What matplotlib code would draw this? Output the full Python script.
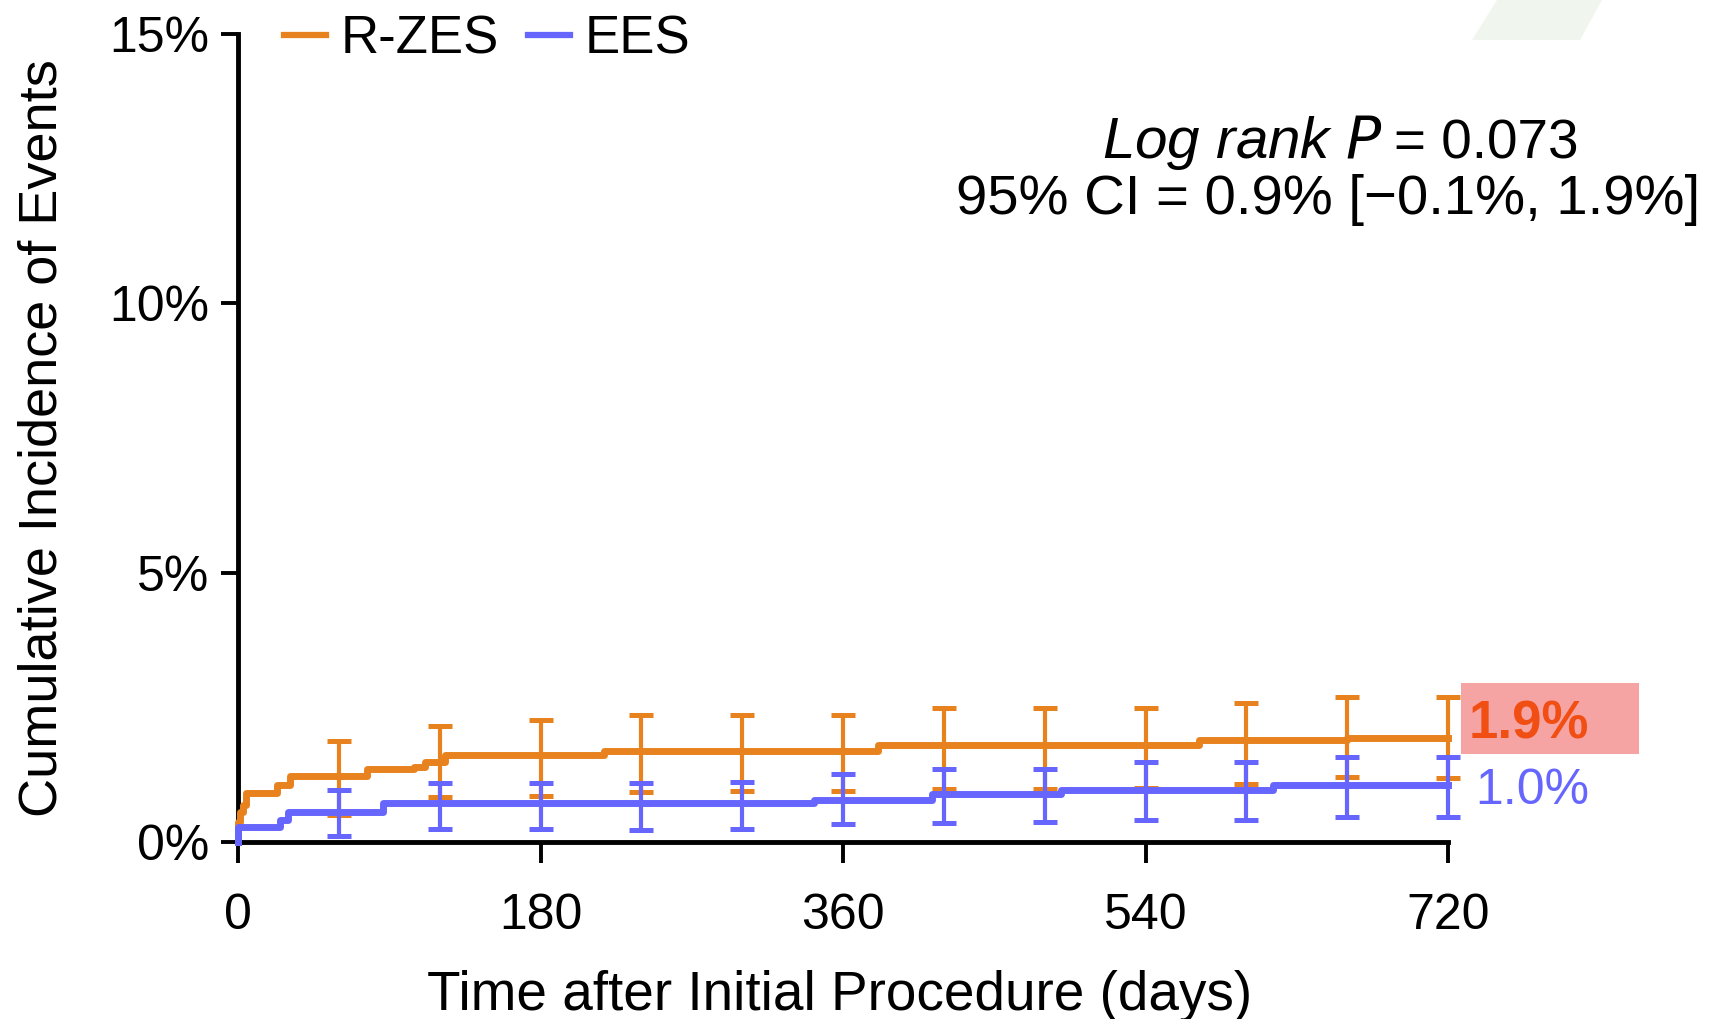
import numpy as np
import matplotlib.pyplot as plt
from matplotlib.patches import Rectangle, Polygon

# Données (jours, incidence cumulée en %)
rzes_days = [0, 0, 1, 3, 5, 23, 31, 77, 105, 111, 123, 218, 381, 572, 660, 720]
rzes_vals = [0.0, 0.38, 0.56, 0.68, 0.91, 1.06, 1.22, 1.35, 1.40, 1.49, 1.62, 1.69, 1.80, 1.89, 1.93, 1.93]

ees_days = [0, 0, 25, 30, 86, 343, 413, 490, 616, 720]
ees_vals = [0.0, 0.28, 0.41, 0.56, 0.72, 0.78, 0.89, 0.97, 1.05, 1.05]

# Barres d'erreur (IC) tous les 60 jours
bar_days = [60, 120, 180, 240, 300, 360, 420, 480, 540, 600, 660, 720]
rzes_low = [0.50, 0.83, 0.85, 0.92, 0.94, 0.94, 0.99, 0.99, 1.00, 1.07, 1.20, 1.18]
rzes_high = [1.88, 2.15, 2.27, 2.35, 2.35, 2.35, 2.48, 2.48, 2.48, 2.58, 2.69, 2.70]
ees_low = [0.11, 0.24, 0.24, 0.22, 0.24, 0.33, 0.36, 0.38, 0.41, 0.41, 0.46, 0.47]
ees_high = [0.96, 1.10, 1.09, 1.09, 1.11, 1.27, 1.35, 1.35, 1.49, 1.48, 1.57, 1.57]

x_ticks = [0, 180, 360, 540, 720]
y_ticks = [0, 5, 10, 15]
y_ticklabels = ["0%", "5%", "10%", "15%"]

orange = "#E8821E"
blue = "#6666FF"

plt.rcParams['font.family'] = ['Liberation Sans', 'DejaVu Sans']

W, H = 1713, 1019
fig = plt.figure(figsize=(W / 100, H / 100), dpi=100)
fig.patch.set_facecolor("white")

# décor vert pâle en haut à droite
fig.patches.append(Polygon([(1497 / W, 1.0), (1602 / W, 1.0), (1580 / W, 1 - 40 / H), (1472 / W, 1 - 40 / H)],
                           closed=True, transform=fig.transFigure, facecolor="#F0F6EE", edgecolor="none"))

ax = fig.add_axes([238 / W, 1 - 842 / H, (1448 - 238) / W, (842 - 34) / H])

def draw_bars(days, low, high, color):
    low = np.array(low)
    high = np.array(high)
    mid = (low + high) / 2
    half = (high - low) / 2
    eb = ax.errorbar(days, mid, yerr=half, fmt='none', ecolor=color, elinewidth=3,
                     capsize=8.5, capthick=3.6, zorder=3)
    for art in eb.lines[1] + eb.lines[2]:
        art.set_clip_on(False)

draw_bars(bar_days, rzes_low, rzes_high, orange)
ax.step(rzes_days, rzes_vals, where='post', color=orange, lw=5, clip_on=False, zorder=4, label="R-ZES")
draw_bars(bar_days, ees_low, ees_high, blue)
ax.step(ees_days, ees_vals, where='post', color=blue, lw=5, clip_on=False, zorder=5, label="EES")

ax.set_xlim(0, 720)
ax.set_ylim(0, 15)
ax.set_xticks(x_ticks)
ax.set_yticks(y_ticks)
ax.set_yticklabels(y_ticklabels)
ax.tick_params(axis='x', direction='out', length=15, width=2.8, pad=22, labelsize=36)
ax.tick_params(axis='y', direction='out', length=12, width=2.8, pad=9, labelsize=36)
for side in ["top", "right"]:
    ax.spines[side].set_visible(False)
for side in ["left", "bottom"]:
    ax.spines[side].set_linewidth(3.5)

ax.set_xlabel("Time after Initial Procedure (days)", fontsize=39.5)
ax.set_ylabel("Cumulative Incidence of Events", fontsize=39)
ax.xaxis.set_label_coords(0.497, -0.158)
ax.yaxis.set_label_coords(-0.141, 0.5)

leg = ax.legend(loc='center left', bbox_to_anchor=(0.038, 0.9935), ncol=2, frameon=False,
                fontsize=38, handlelength=0.8, handletextpad=0.27, columnspacing=0.55,
                borderpad=0, borderaxespad=0)
for line in leg.get_lines():
    line.set_linewidth(4.5)

# Annotation statistique
ax.text(0.946, 0.846, "Log rank $P$", transform=ax.transAxes, ha='right', va='baseline',
        fontsize=42, style='italic')
ax.text(0.955, 0.846, "= 0.073", transform=ax.transAxes, ha='left', va='baseline', fontsize=39.5)
ax.text(0.901, 0.777, "95% CI = 0.9% [\u22120.1%, 1.9%]", transform=ax.transAxes, ha='center',
        va='baseline', fontsize=40.5)

# Étiquettes finales
ax.add_patch(Rectangle((727.7, 1.63), 106, 1.32, facecolor="#F6A3A3", edgecolor="none",
                       clip_on=False, zorder=2))
ax.text(732, rzes_vals[-1] + 0.25, "1.9%", color="#F04E12", fontsize=38, fontweight='bold',
        ha='left', va='center', clip_on=False, zorder=6)
ax.text(736, ees_vals[-1] - 0.1, "1.0%", color=blue, fontsize=36, ha='left', va='center',
        clip_on=False, zorder=6)

fig.savefig("out.png", dpi=100, facecolor="white")
